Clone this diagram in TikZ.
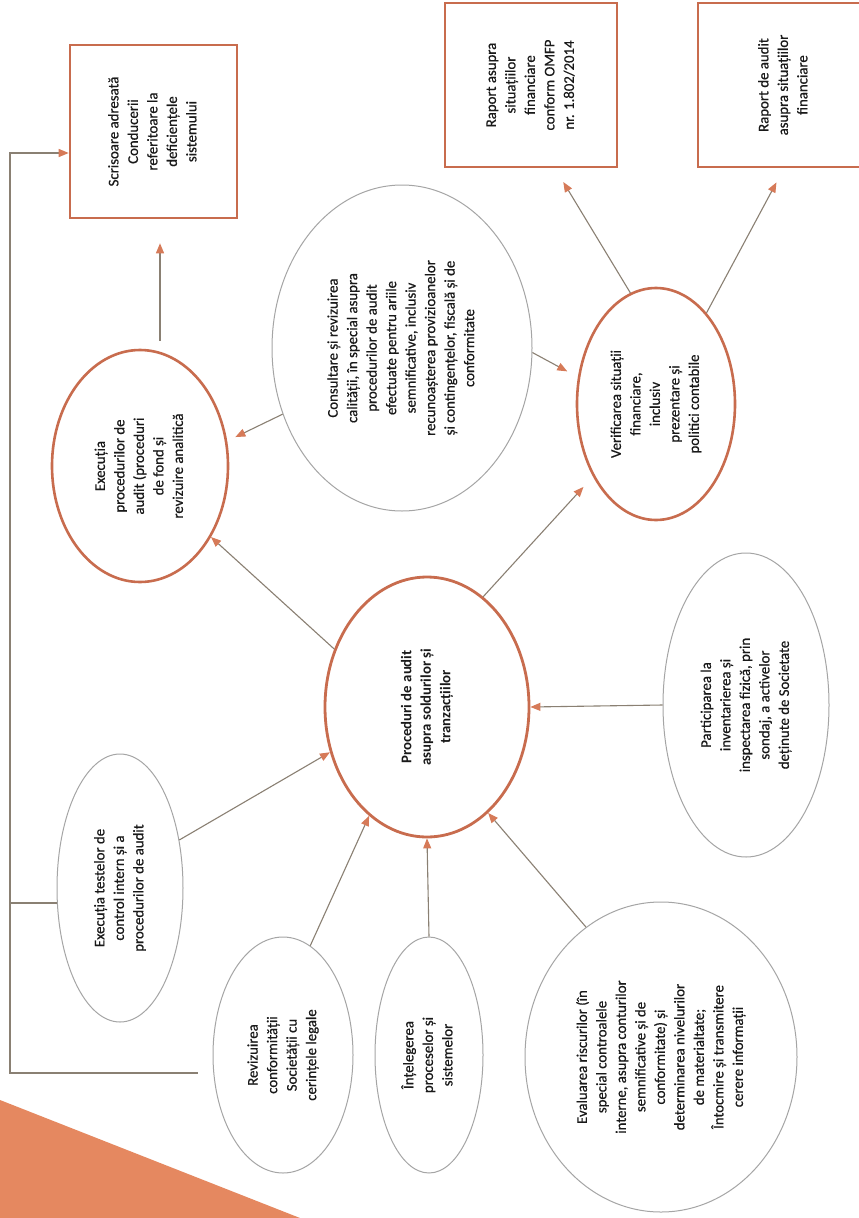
\documentclass[tikz,border=0pt]{standalone}
\usepackage{fontspec}
\setmainfont{Carlito}
\newfontfamily\regf{Carlito}[FakeBold=0.6]
\usetikzlibrary{arrows.meta,shapes.geometric,calc}
\definecolor{ob}{RGB}{200,108,78}
\definecolor{otip}{RGB}{214,122,88}
\definecolor{lnc}{RGB}{138,128,115}
\definecolor{gel}{RGB}{165,165,165}
\definecolor{ofill}{RGB}{229,136,96}
\newcommand{\rtext}[1]{\rotatebox{90}{\begin{tabular}{@{}c@{}}#1\end{tabular}}}
\begin{document}
\begin{tikzpicture}[x=1pt,y=-1pt,
  txt/.style={font=\regf\fontsize{14.8}{19.5}\selectfont, inner sep=0pt, text=black!90},
  oell/.style={txt, ellipse, draw=ob, line width=2.6pt},
  gell/.style={txt, ellipse, draw=gel, line width=1pt},
  obox/.style={txt, rectangle, draw=ob, line width=2.6pt},
  conn/.style={draw=lnc, line width=1.1pt},
  arr/.style={conn, -{Triangle[length=10pt,width=8pt,color=otip]}}]
\useasboundingbox (0,0) rectangle (859,1218);
\clip (0,0) rectangle (859,1218);
\fill[white] (0,0) rectangle (859,1218);
\fill[ofill] (0,1100) -- (300,1218) -- (0,1218) -- cycle;

% boxes
\node[obox, minimum width=167pt, minimum height=173pt] (S) at (153.5,131.5)
  {\rtext{Scrisoare adresată\\Conducerii\\referitoare la\\deficiențele\\sistemului}};
\node[obox, minimum width=172pt, minimum height=164pt] (A) at (531,85)
  {\rtext{Raport asupra\\situațiilor\\financiare\\conform OMFP\\nr. 1.802/2014}};
\node[obox, minimum width=172pt, minimum height=164pt] (B) at (784,85)
  {\rtext{Raport de audit\\asupra situațiilor\\financiare}};

% ellipses
\node[oell, minimum width=176pt, minimum height=232pt] (X) at (140,466)
  {\rtext{Execuția\\procedurilor de\\audit (proceduri\\de fond și\\revizuire analitică}};
\node[gell, minimum width=260pt, minimum height=326pt] (K) at (402,348)
  {\rtext{Consultare și revizuirea\\calității, în special asupra\\procedurilor de audit\\efectuate pentru ariile\\semnificative, inclusiv\\recunoașterea provizioanelor\\și contingențelor, fiscală și de\\conformitate}};
\node[oell, minimum width=158pt, minimum height=232pt] (V) at (656,404)
  {\rtext{Verificarea situații\\financiare,\\inclusiv\\prezentare și\\politici contabile}};
\node[oell, line width=2.8pt, minimum width=204pt, minimum height=260pt,
  font=\fontsize{14.8}{19.5}\selectfont\bfseries] (C) at (427,707)
  {\rtext{Proceduri de audit\\asupra soldurilor și\\tranzacțiilor}};
\node[gell, minimum width=166pt, minimum height=304pt] (P) at (746,705)
  {\rtext{Participarea la\\inventarierea și\\inspectarea fizică, prin\\sondaj, a activelor\\deținute de Societate}};
\node[gell, minimum width=126pt, minimum height=268pt] (T) at (120,888)
  {\rtext{Execuția testelor de\\control intern și a\\procedurilor de audit}};
\node[gell, minimum width=140pt, minimum height=236pt] (R) at (283,1055)
  {\rtext{Revizuirea\\conformității\\Societății cu\\cerințele legale}};
\node[gell, minimum width=108pt, minimum height=236pt] (I) at (429,1055)
  {\rtext{Înțelegerea\\proceselor și\\sistemelor}};
\node[gell, minimum width=272pt, minimum height=310pt] (E) at (661,1057)
  {\rtext{Evaluarea riscurilor (în\\special controalele\\interne, asupra conturilor\\semnificative și de\\conformitate) și\\determinarea nivelurilor\\de materialtate;\\Întocmire și transmitere\\cerere informații}};

% connectors
\draw[arr] (T.39) -- (C.205);
\draw[arr] (R.76) -- (C.242);
\draw[arr] (I.north) -- (C.south);
\draw[arr] (E.120) -- (C.300);
\draw[arr] (P.west) -- (C.east);
\draw[arr] (C.148) -- (X.315);
\draw[arr, shorten >=9pt] (K.209) -- (X.16);
\draw[arr, shorten >=12pt] (K.358) -- (V.161);
\draw[arr, shorten >=14pt] (C.63) -- (V.229);
\draw[arr, shorten <=8pt, shorten >=24pt] ([xshift=20pt]X.north) -- ([xshift=20pt]X.north |- S.south);
\draw[arr, shorten >=16pt] (V.103) -- ([xshift=24pt]A.south);
\draw[arr, shorten >=16pt] (V.61) -- (B.south);

% feedback line
\coordinate (fbB) at (10,1073);
\coordinate (fbT) at (10,153);
\draw[arr, shorten <=15pt] ([yshift=-18pt]R.west) -- (fbB) -- (fbT) -- (fbT -| S.west);
\draw[conn] ([yshift=-15pt]T.west) -- ([yshift=-15pt]T.west -| fbB);
\end{tikzpicture}
\end{document}
